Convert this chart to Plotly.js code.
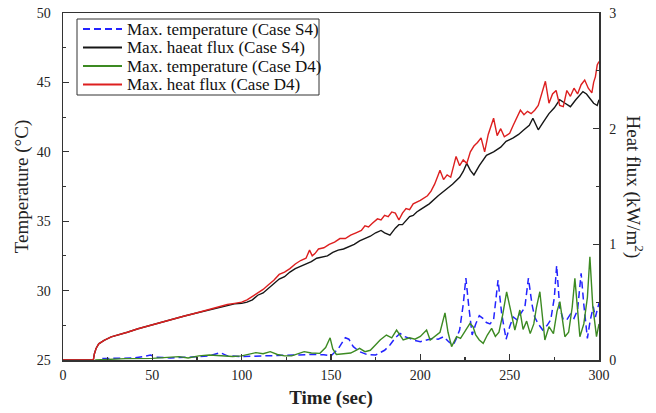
<!DOCTYPE html>
<html>
<head>
<meta charset="utf-8">
<script src="https://cdn.plot.ly/plotly-3.0.1.min.js"></script>
<style>html,body{margin:0;padding:0;background:#fff;}#chart{width:656px;height:413px;}</style>
</head>
<body>
<div id="chart"></div>
<script>
// Max. heat flux (Case D4), kW/m2
const tRedD4 = [0,17,17.5,18.5,20,23,27,32,36,42,49,55,62,68,73,80,86,92,96,100,103,106,109,112,115,118,121,124,127,130,133,136,138,139.5,141,143,146,149,152,155,158,161,164,167,169,171,173,176,178,180,182,184,186,188,190,192,194,196,200,204,206,208,210,211,213,215,217,219,220,222,224,226,228,230,232,234,236,238,240,241,243,245,247,250,252,254,256,258,260,262,264,266,268,270,272,274,276,278,280,282,284,286,288,290,292,294,296,297,298,299,300];
const hfD4 = [0,0,0.05,0.10,0.14,0.17,0.20,0.22,0.24,0.27,0.30,0.33,0.355,0.38,0.40,0.43,0.46,0.48,0.49,0.50,0.52,0.55,0.58,0.61,0.65,0.69,0.74,0.76,0.79,0.83,0.86,0.88,0.95,0.90,0.92,0.96,0.97,1.00,1.02,1.05,1.05,1.08,1.10,1.12,1.16,1.15,1.18,1.22,1.21,1.25,1.24,1.28,1.27,1.21,1.27,1.31,1.30,1.35,1.38,1.42,1.46,1.52,1.60,1.64,1.56,1.60,1.58,1.70,1.76,1.68,1.73,1.70,1.80,1.85,1.88,1.92,1.80,1.95,2.05,2.09,1.94,2.00,1.93,1.96,2.03,2.10,2.16,2.12,2.15,2.13,2.16,2.20,2.30,2.41,2.22,2.30,2.33,2.20,2.19,2.33,2.28,2.35,2.30,2.38,2.42,2.35,2.31,2.40,2.45,2.55,2.58];

// Max. haeat flux (Case S4), kW/m2
const tBlackS4 = [0,17,17.5,18.5,20,23,27,32,36,42,49,55,62,68,73,80,86,92,96,100,103,106,109,112,115,118,121,124,127,130,133,136,139,142,145,148,151,154,157,160,163,166,169,172,175,178,180,183,186,188,190,192,194,196,198,200,205,210,214,218,222,224,226,228,230,233,237,241,245,248,252,255,258,261,263,265,266,269,272,275,278,281,284,287,291,293,295,297,299,300];
const hfS4 = [0,0,0.05,0.10,0.14,0.17,0.20,0.22,0.24,0.27,0.30,0.33,0.355,0.38,0.40,0.425,0.45,0.47,0.485,0.49,0.50,0.52,0.56,0.58,0.62,0.66,0.70,0.72,0.76,0.79,0.81,0.83,0.85,0.88,0.89,0.90,0.93,0.95,0.96,0.98,1.00,1.03,1.05,1.07,1.10,1.12,1.10,1.08,1.14,1.17,1.17,1.21,1.24,1.25,1.28,1.30,1.35,1.42,1.47,1.52,1.58,1.63,1.70,1.64,1.60,1.68,1.77,1.80,1.84,1.89,1.92,1.95,1.99,2.03,2.09,2.02,1.99,2.06,2.13,2.18,2.25,2.22,2.19,2.25,2.32,2.30,2.26,2.22,2.20,2.25];

// Max. temperature (Case S4), deg C
const tBlueS4 = [22,30,40,45,49,52,60,70,76,82,88,92,100,110,120,130,140,146,150,154,158,160,162.5,166,170,175,180,183,186,188.6,191,194,197,200,203,207,210,213,216,218.4,220,222,224,225.5,227,229,231,233,235,237,239,241,243.5,245.5,248,250,252,254,256,258.5,260.5,262.5,264,266,268.5,271,273,275,276.3,278,280,282,284,286,288,290,291.5,293.5,295,296.8,298,300];
const tempS4 = [25.1,25.12,25.15,25.25,25.36,25.2,25.15,25.2,25.25,25.3,25.53,25.3,25.25,25.3,25.35,25.36,25.4,25.38,25.3,25.8,26.6,26.5,25.96,25.6,25.4,25.36,25.7,26.08,26.6,26.92,26.7,26.56,26.4,26.32,26.4,26.56,26.5,26.68,26.3,26.08,26.5,27.16,29.0,30.9,29.0,26.8,27.6,28.2,28.0,27.7,27.6,27.9,30.76,28.36,26.5,27.4,28.1,27.9,28.3,28.8,30.9,29.0,28.1,27.6,27.16,27.5,27.9,29.5,31.8,28.8,27.9,27.9,28.3,28.0,28.6,31.24,29.0,26.56,27.8,28.84,28.1,29.1];

// Max. temperature (Case D4), deg C
const tGreenD4 = [18,25,35,50,60,65,70,76,82,88,95,100,104,108,112,116,120,124,128,132,135,139,143.8,147,149.5,151,153,157,161,164,166,169,172,175,177.5,181,184,186.7,188.5,190.4,194,197,200,203.5,205.5,208,211,213.8,215.5,217.5,220.3,222.5,225,227.8,229.5,231,233,235.2,237.5,239.9,242,244,246,248.3,250,252.9,255.7,257.5,259.5,261.5,263.5,265,266.9,269.7,272,274.5,276.5,278.1,280.9,283,285,286.5,289.3,291.5,293.5,294.9,296.5,298.6,300];
const tempD4 = [25.0,25.05,25.1,25.12,25.2,25.24,25.15,25.3,25.36,25.3,25.25,25.3,25.4,25.53,25.45,25.6,25.4,25.3,25.3,25.5,25.6,25.5,25.48,25.9,26.6,25.8,25.4,25.45,25.5,25.7,25.84,25.6,25.7,26.1,26.44,26.8,26.6,27.16,26.8,26.44,26.6,26.5,26.7,27.16,26.44,26.7,27.0,28.4,27.0,25.96,26.68,26.56,27.1,27.64,27.4,26.8,26.44,26.2,26.8,27.28,26.7,27.0,28.2,29.9,28.9,27.16,28.6,27.2,27.8,26.9,27.6,28.8,29.92,26.44,27.4,26.9,28.5,29.2,26.68,27.0,28.8,30.88,26.68,27.6,29.5,32.44,28.9,26.68,27.6];

const seriesNames = ["Max. temperature (Case S4)", "Max. haeat flux (Case S4)", "Max. temperature (Case D4)", "Max. heat flux (Case D4)"];
const seriesColors = ["#2323ff", "#161616", "#3c8a22", "#dd1f1f"];
const seriesDash = ["7px,4px", "solid", "solid", "solid"];

const serif = "Liberation Serif, Times New Roman, serif";

const traces = [
  {x: tBlueS4, y: tempS4, name: seriesNames[0], yaxis: "y", mode: "lines",
   line: {color: seriesColors[0], width: 1.5, dash: seriesDash[0]}},
  {x: tBlackS4, y: hfS4, name: seriesNames[1], yaxis: "y2", mode: "lines",
   line: {color: seriesColors[1], width: 1.4}},
  {x: tGreenD4, y: tempD4, name: seriesNames[2], yaxis: "y", mode: "lines",
   line: {color: seriesColors[2], width: 1.4}},
  {x: tRedD4, y: hfD4, name: seriesNames[3], yaxis: "y2", mode: "lines",
   line: {color: seriesColors[3], width: 1.4}}
];

// custom legend box (pixel geometry converted to paper coordinates)
const plotL = 63, plotW = 536, plotB = 360, plotH = 347;
const px = v => (v - plotL) / plotW;
const py = v => (plotB - v) / plotH;
const legRows = [29, 47.5, 66, 84.5];

const shapes = [{type: "rect", xref: "paper", yref: "paper",
  x0: px(77), x1: px(319), y0: py(95), y1: py(19),
  line: {color: "#333", width: 1}, fillcolor: "rgba(0,0,0,0)"}];
const annotations = [];
seriesNames.forEach((nm, i) => {
  shapes.push({type: "line", xref: "paper", yref: "paper",
    x0: px(83), x1: px(122), y0: py(legRows[i]), y1: py(legRows[i]),
    line: {color: seriesColors[i], width: 1.8, dash: seriesDash[i]}});
  annotations.push({text: nm, xref: "paper", yref: "paper", x: px(125), y: py(legRows[i]),
    xanchor: "left", yanchor: "middle", showarrow: false,
    font: {family: serif, size: 17, color: "#111"}});
});
annotations.push({
  text: "Heat flux (kW/m<sup>2</sup>)", xref: "paper", yref: "paper",
  x: px(634), y: 0.5, xanchor: "center", yanchor: "middle", showarrow: false,
  textangle: 90, font: {family: serif, size: 19, color: "#222"}
});

const axFont = {family: serif, size: 14, color: "#222"};

const layout = {
  width: 656, height: 413,
  margin: {l: 63, r: 57, t: 13, b: 53},
  paper_bgcolor: "#fff", plot_bgcolor: "#fff",
  showlegend: false,
  xaxis: {range: [0, 300], dtick: 50, tick0: 0, showgrid: false, zeroline: false,
          ticks: "inside", ticklen: 6, tickwidth: 1.2, tickcolor: "#333",
          minor: {dtick: 25, ticks: "inside", ticklen: 3, tickcolor: "#333", showgrid: false},
          showline: true, linecolor: "#333", linewidth: 1.5, mirror: true,
          tickfont: axFont, ticklabelstandoff: 2,
          title: {text: "<b>Time (sec)</b>", font: {family: serif, size: 19, color: "#222"}, standoff: 8}},
  yaxis: {range: [25, 50], dtick: 5, tick0: 25, showgrid: false, zeroline: false,
          ticks: "inside", ticklen: 6, tickwidth: 1.2, tickcolor: "#333",
          minor: {dtick: 2.5, ticks: "inside", ticklen: 3, tickcolor: "#333", showgrid: false},
          showline: true, linecolor: "#333", linewidth: 1.5,
          tickfont: axFont, ticklabelstandoff: 8,
          title: {text: "Temperature (°C)", font: {family: serif, size: 19, color: "#222"}, standoff: 3}},
  yaxis2: {range: [0, 3], dtick: 1, tick0: 0, overlaying: "y", side: "right",
           showgrid: false, zeroline: false,
           ticks: "inside", ticklen: 6, tickwidth: 1.2, tickcolor: "#333",
           minor: {dtick: 0.5, ticks: "inside", ticklen: 3, tickcolor: "#333", showgrid: false},
           showline: true, linecolor: "#333", linewidth: 1.5,
           tickfont: axFont, ticklabelstandoff: 6},
  shapes: shapes,
  annotations: annotations
};

Plotly.newPlot("chart", traces, layout, {displayModeBar: false, staticPlot: true});
</script>
</body>
</html>
